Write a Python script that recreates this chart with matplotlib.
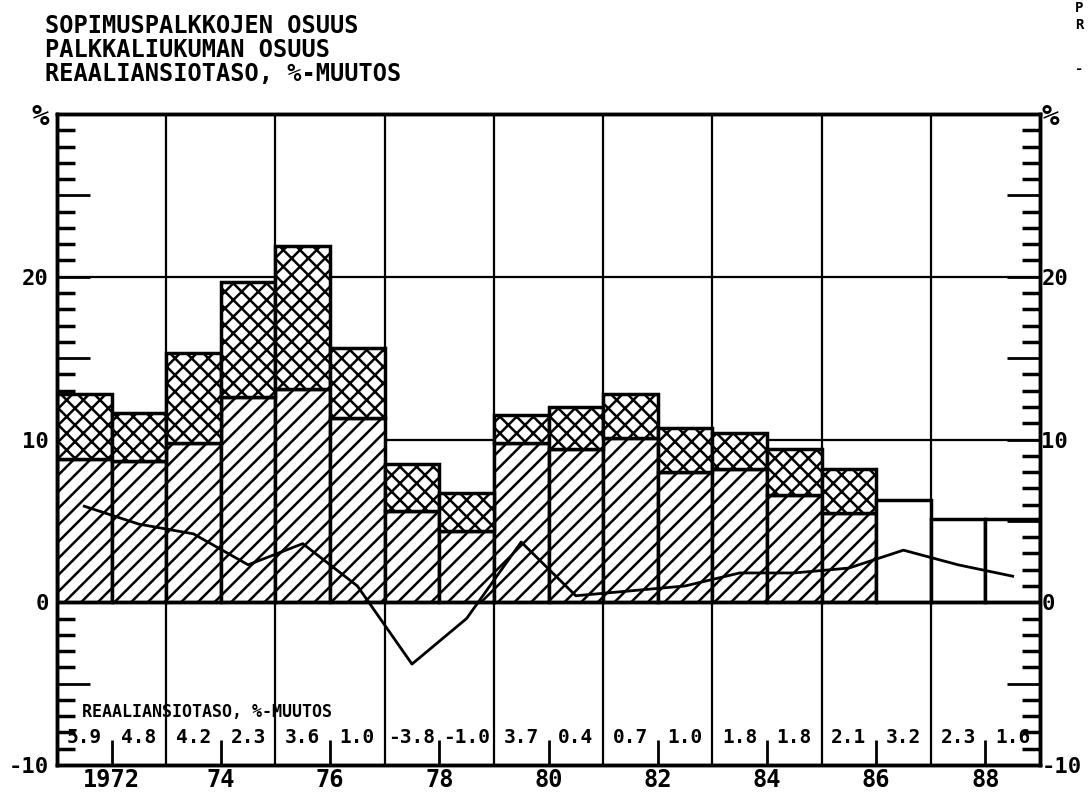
import matplotlib
matplotlib.use('Agg')
import matplotlib.pyplot as plt
from matplotlib.ticker import MultipleLocator

# data
years = list(range(1971, 1989))
sopimus = [8.8, 8.7, 9.8, 12.6, 13.1, 11.3, 5.6, 4.4, 9.8, 9.4, 10.1, 8.0, 8.2, 6.6, 5.5]   # 1971-1985
yhteensa = [12.8, 11.6, 15.3, 19.7, 21.9, 15.6, 8.5, 6.7, 11.5, 12.0, 12.8, 10.7, 10.4, 9.4, 8.2]
ennuste = [6.3, 5.1, 5.1]   # 1986-1988, no split
reaali = [5.9, 4.8, 4.2, 2.3, 3.6, 1.0, -3.8, -1.0, 3.7, 0.4, 0.7, 1.0, 1.8, 1.8, 2.1, 3.2, 2.3, 1.6]
xlabels = ['1972', '74', '76', '78', '80', '82', '84', '86', '88']
title_lines = ['SOPIMUSPALKKOJEN OSUUS', 'PALKKALIUKUMAN OSUUS', 'REAALIANSIOTASO, %-MUUTOS']

plt.rcParams['font.family'] = 'DejaVu Sans Mono'
plt.rcParams['font.weight'] = 'bold'
plt.rcParams['hatch.linewidth'] = 1.8
plt.rcParams['hatch.color'] = 'black'

fig = plt.figure(figsize=(10.88, 7.97), dpi=100)
ax = fig.add_axes([57 / 1088, 32 / 797, (1040 - 57) / 1088, (765 - 114) / 797])

n = len(sopimus)
liukuma = [t - s for t, s in zip(yhteensa, sopimus)]
x = list(range(n))
ax.bar(x, sopimus, width=1, align='edge', color='white', edgecolor='black',
       hatch='//', linewidth=2.5, zorder=2)
ax.bar(x, liukuma, bottom=sopimus, width=1, align='edge', color='white',
       edgecolor='black', hatch='xx', linewidth=2.5, zorder=2)
xe = list(range(n, len(years)))
ax.bar(xe, ennuste, width=1, align='edge', color='white', edgecolor='black',
       linewidth=2.5, zorder=2)

centers = [i + 0.5 for i in range(len(years))]
ax.plot(centers, reaali, color='black', lw=2.0, zorder=4)

# grid
for v in (10, 20):
    ax.axhline(v, color='black', lw=1.6, zorder=1)
ax.axhline(0, color='black', lw=2.5, zorder=3)
for g in range(2, 18, 2):
    ax.axvline(g, color='black', lw=1.6, zorder=1)

ax.set_xlim(0, 18)
ax.set_ylim(-10, 30)
for s in ax.spines.values():
    s.set_linewidth(2.5)

# value row
for c, v in zip(centers, reaali):
    ax.text(c, -8.3, f'{v:.1f}', ha='center', va='center', fontsize=14,
            fontweight='bold', zorder=5)
ax.text(0.45, -6.75, 'REAALIANSIOTASO, %-MUUTOS', ha='left', va='center',
        fontsize=12, fontweight='bold', zorder=5)

# x axis
ax.set_xticks(range(1, 18, 2))
ax.set_xticklabels(xlabels, fontsize=17, fontweight='bold')
ax.tick_params(axis='x', direction='in', length=18, width=2, pad=2)

# left y axis
yt = list(range(-10, 31, 5))
ylabels = ['-10', '', '0', '', '10', '', '20', '', '%']
ax.yaxis.set_minor_locator(MultipleLocator(1))
ax.set_yticks(yt)
ax.set_yticklabels(ylabels, fontsize=16, fontweight='bold')
ax.tick_params(axis='y', which='major', direction='in', length=24, width=2, pad=6)
ax.tick_params(axis='y', which='minor', direction='in', length=13, width=2.5)

# right y axis
ax2 = ax.twinx()
ax2.set_ylim(-10, 30)
ax2.yaxis.set_minor_locator(MultipleLocator(1))
ax2.set_yticks(yt)
ax2.set_yticklabels(ylabels, fontsize=16, fontweight='bold')
ax2.tick_params(axis='y', which='major', direction='in', length=24, width=2, pad=1)
ax2.tick_params(axis='y', which='minor', direction='in', length=13, width=2.5)
for s in ax2.spines.values():
    s.set_linewidth(2.5)

# bigger percent signs at the top of both axes
for lab in ax.get_yticklabels() + ax2.get_yticklabels():
    if lab.get_text() == '%':
        lab.set_fontsize(21)

# titles
for k, t in enumerate(title_lines):
    fig.text(45 / 1088, 1 - (14 + 24 * k) / 797, t, ha='left', va='top',
             fontsize=17, fontweight='bold')

# clipped legend at top right
fig.text(1075 / 1088, 1 - 1 / 797, 'P', ha='left', va='top', fontsize=10, fontweight='bold')
fig.text(1075 / 1088, 1 - 18 / 797, 'R', ha='left', va='top', fontsize=10, fontweight='bold')
fig.text(1075 / 1088, 1 - 62 / 797, '-', ha='left', va='top', fontsize=10, fontweight='bold')

fig.savefig('out.png', dpi=100, facecolor='white')
